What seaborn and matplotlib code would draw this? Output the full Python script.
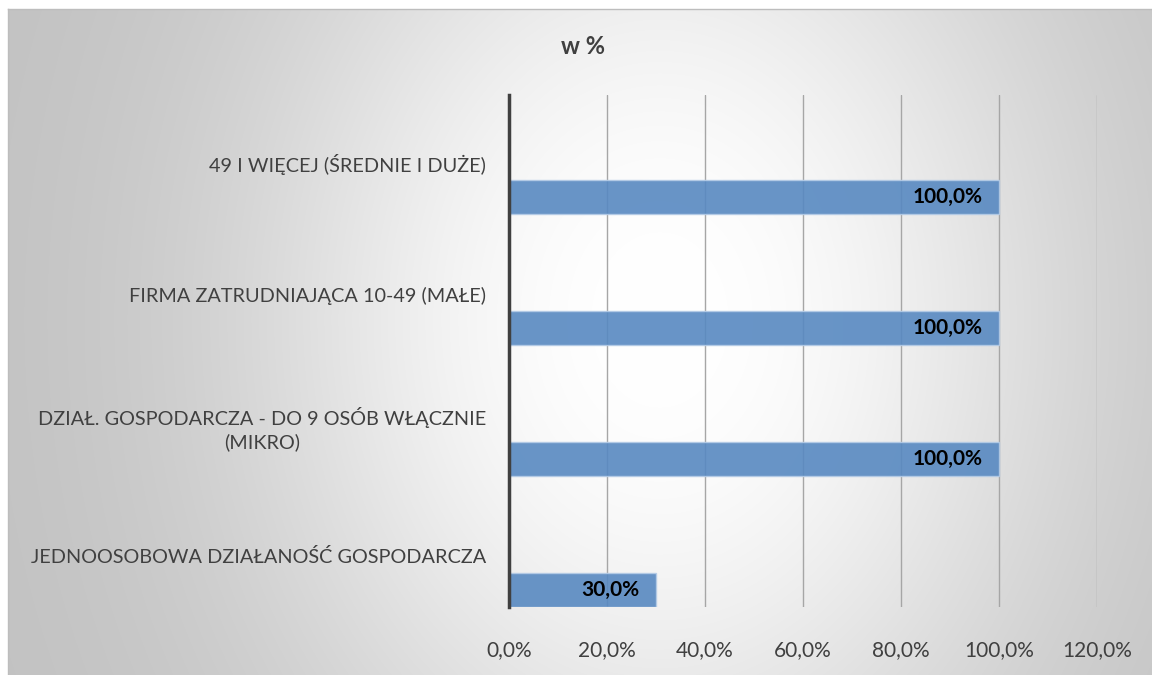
import numpy as np
import pandas as pd
import matplotlib
matplotlib.use('Agg')
import matplotlib.pyplot as plt
import seaborn as sns

# ---- data ----
categories = [
    "49 I WIĘCEJ (ŚREDNIE I DUŻE)",
    "FIRMA ZATRUDNIAJĄCA 10-49 (MAŁE)",
    "DZIAŁ. GOSPODARCZA - DO 9 OSÓB WŁĄCZNIE\n(MIKRO)",
    "JEDNOOSOBOWA DZIAŁANOŚĆ GOSPODARCZA",
]
values = [100.0, 100.0, 100.0, 30.0]
x_ticks = [0, 20, 40, 60, 80, 100, 120]
title = "w %"

sns.set_theme(style="white")
plt.rcParams['font.family'] = ['Lato', 'DejaVu Sans']

W, H = 1152, 675
fig = plt.figure(figsize=(W / 100, H / 100), dpi=100)
fig.patch.set_facecolor('white')

# ---- radial gradient background of the chart box ----
bx0, by0 = 8, 9
bg = fig.add_axes([bx0 / W, 0, 1 - bx0 / W, 1 - by0 / H])
xs = np.arange(bx0, W) + 0.5
ys = np.arange(by0, H) + 0.5
X, Y = np.meshgrid(xs, ys)
cx, cy = 660, 320
r = np.sqrt((X - cx) ** 2 + ((Y - cy) / 1.28) ** 2)
f = 1 - np.exp(-(r / 410.0) ** 2.3)
val = 255 - 62 * f
val = np.clip(val, 190, 255) / 255.0
img = np.dstack([val, val, val])
bg.imshow(img, extent=[bx0, W, H, by0], aspect='auto', interpolation='bilinear')
bg.set_xlim(bx0, W)
bg.set_ylim(H, by0)
bg.set_xticks([])
bg.set_yticks([])
for s in ['right', 'bottom']:
    bg.spines[s].set_visible(False)
for s in ['top', 'left']:
    bg.spines[s].set_color('#bdbdbd')
    bg.spines[s].set_linewidth(1)
bg.set_zorder(-5)

# ---- main axes ----
ax = fig.add_axes([509 / W, (H - 607) / H, (1097 - 509) / W, (607 - 95) / H])
ax.patch.set_alpha(0)

df = pd.DataFrame({'cat': categories, 'val': values})
sns.barplot(data=df, x='val', y='cat', orient='h', color='#5889c1',
            saturation=1, width=0.26, ax=ax, edgecolor='#b4cbe6', linewidth=1,
            alpha=0.9, zorder=3)

ax.set_xlim(0, 120)
ax.set_ylim(3.13, -0.78)
ax.set_xticks(x_ticks)
ax.set_xticklabels([f"{t:.1f}%".replace('.', ',') for t in x_ticks])
ax.set_yticks(np.arange(len(categories)) - 0.26)
ax.set_yticklabels(categories)
for lab in ax.get_yticklabels():
    lab.set_horizontalalignment('right')
    lab.set_multialignment('center')
    lab.set_linespacing(1.35)
ax.set_xlabel('')
ax.set_ylabel('')
ax.tick_params(axis='y', length=0, pad=16.5, labelsize=14.3, labelcolor='#404040')
ax.tick_params(axis='x', length=0, pad=24, labelsize=15, labelcolor='#404040')

ax.xaxis.grid(True, color='#a6a6a6', lw=1, zorder=0)
ax.yaxis.grid(False)
ax.set_axisbelow(True)
for s in ['top', 'right', 'bottom']:
    ax.spines[s].set_visible(False)
ax.spines['left'].set_color('#404040')
ax.spines['left'].set_linewidth(2.5)
ax.spines['left'].set_zorder(5)

for i, v in enumerate(values):
    ax.annotate(f"{v:.1f}%".replace('.', ','), xy=(v, i), xytext=(-12, 0),
                textcoords='offset points', ha='right', va='center',
                fontsize=15, fontweight='bold', color='black', zorder=6)

fig.text(583 / W, 1 - 47 / H, title, ha='center', va='center',
         fontsize=17, fontweight='bold', color='#404040')

fig.savefig('out.png', dpi=100)
